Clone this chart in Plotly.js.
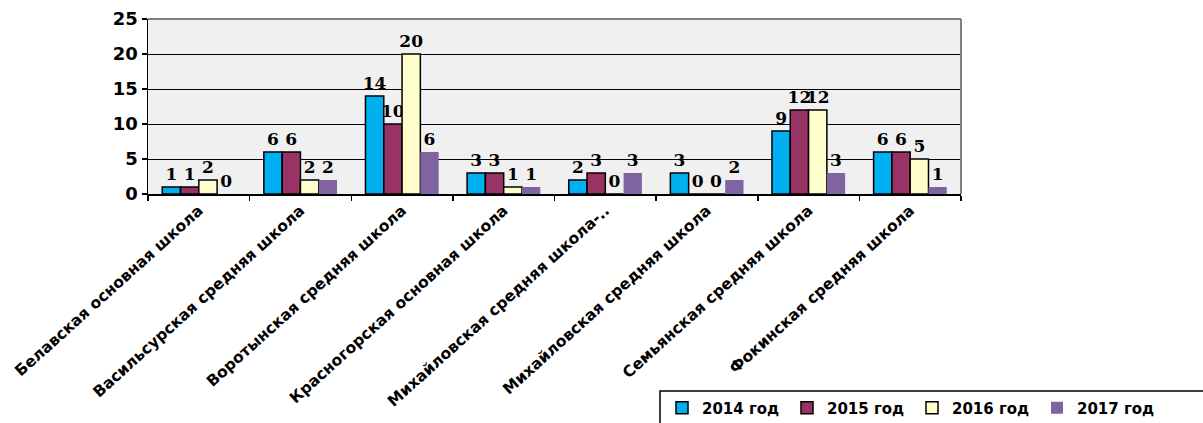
<!DOCTYPE html>
<html>
<head>
<meta charset="utf-8">
<script src="https://cdn.plot.ly/plotly-3.0.1.min.js"></script>
<style>html,body{margin:0;padding:0;background:#fff;}#chart{width:1203px;height:423px;}</style>
</head>
<body>
<div id="chart"></div>
<script>
const categories = [
  "Белавская основная школа",
  "Васильсурская средняя школа",
  "Воротынская средняя школа",
  "Красногорская основная школа",
  "Михайловская средняя школа-..",
  "Михайловская средняя школа",
  "Семьянская средняя школа",
  "Фокинская средняя школа"
];
const seriesNames = ["2014 год", "2015 год", "2016 год", "2017 год"];
const values2014 = [1, 6, 14, 3, 2, 3, 9, 6];
const values2015 = [1, 6, 10, 3, 3, 0, 12, 6];
const values2016 = [2, 2, 20, 1, 0, 0, 12, 5];
const values2017 = [0, 2, 6, 1, 3, 2, 3, 1];
const yTicks = [0, 5, 10, 15, 20, 25];

const colors = ["#00B0F0", "#993366", "#FFFFCC", "#8064A2"];
const lineColors = ["#000000", "#000000", "#000000", "#8064A2"];
const lineWidths = [1.5, 1.5, 1.5, 0];
const allValues = [values2014, values2015, values2016, values2017];

const sansBold = "DejaVu Sans, Arial, sans-serif";
const serifBold = "DejaVu Serif, Times New Roman, serif";

const traces = allValues.map((vals, i) => ({
  type: "bar",
  name: seriesNames[i],
  x: categories,
  y: vals,
  text: vals.map(String),
  textposition: "outside",
  constraintext: "none",
  cliponaxis: false,
  textfont: {family: serifBold, size: 17, color: "#000", weight: 700},
  marker: {color: colors[i], line: {color: lineColors[i], width: lineWidths[i]}},
  hoverinfo: "none"
}));

// plot area in pixels: x 148..961, y 19..194
const L = 148, R = 961, T = 19, B = 194;
const px = v => (v - L) / (R - L);
const py = v => (B - v) / (B - T);

const layout = {
  width: 1203, height: 423,
  margin: {l: L, r: 1203 - R, t: T, b: 423 - B, pad: 0, autoexpand: false},
  paper_bgcolor: "#ffffff",
  plot_bgcolor: "#F0F0F0",
  barmode: "group",
  bargap: 0.28,
  bargroupgap: 0,
  showlegend: true,
  font: {family: sansBold, color: "#000"},
  xaxis: {
    type: "category",
    automargin: false,
    tickangle: -42,
    tickfont: {family: sansBold, size: 15.5, color: "#000", weight: 700},
    showline: true, linecolor: "#000", linewidth: 1.5,
    ticks: "outside", tickson: "boundaries", ticklen: 5, tickcolor: "#000", tickwidth: 1.5,
    showgrid: false, fixedrange: true
  },
  yaxis: {
    automargin: false,
    range: [0, 25],
    tickvals: yTicks,
    ticktext: yTicks.map(String),
    tickfont: {family: sansBold, size: 18, color: "#000", weight: 700},
    showline: true, linecolor: "#000", linewidth: 1.5,
    ticks: "outside", ticklen: 5, tickcolor: "#000", tickwidth: 1.5,
    showgrid: true, gridcolor: "#000", gridwidth: 1,
    zeroline: false, fixedrange: true
  },
  shapes: [
    {type: "line", xref: "paper", yref: "paper", x0: 0, x1: 1, y0: 1, y1: 1, line: {color: "#808080", width: 2}},
    {type: "line", xref: "paper", yref: "paper", x0: 1, x1: 1, y0: 0, y1: 1, line: {color: "#808080", width: 2}},
    {type: "rect", xref: "paper", yref: "paper", x0: px(660), x1: px(1215), y0: py(391), y1: py(435), line: {color: "#000", width: 1.5}, fillcolor: "rgba(0,0,0,0)"}
  ],
  legend: {
    orientation: "h",
    x: px(662), xanchor: "left",
    y: py(408), yanchor: "middle",
    font: {family: sansBold, size: 15, color: "#000", weight: 700},
    bgcolor: "rgba(0,0,0,0)",
    borderwidth: 0,
    itemwidth: 30,
    entrywidth: 80,
    traceorder: "normal"
  }
};

Plotly.newPlot("chart", traces, layout, {displayModeBar: false, staticPlot: true});
</script>
</body>
</html>
